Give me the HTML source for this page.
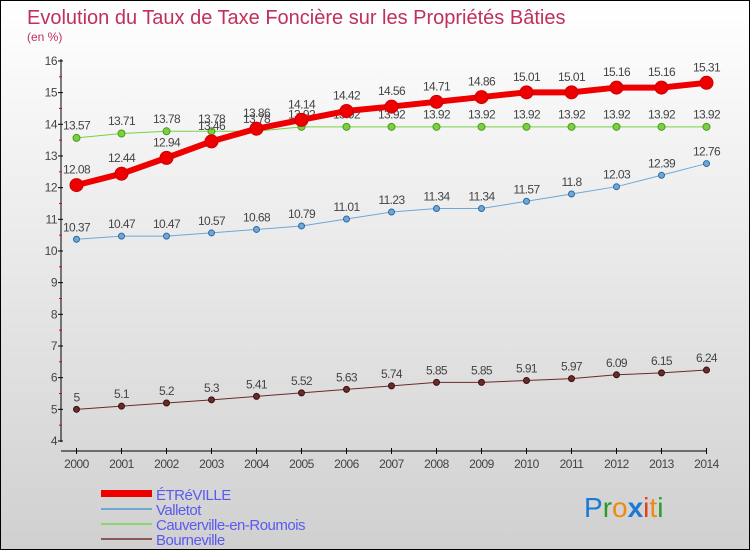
<!DOCTYPE html>
<html><head><meta charset="utf-8"><style>
body{margin:0}
#c{width:748px;height:548px;border:1px solid #000;background:linear-gradient(#ffffff,#d0d0d0);position:relative;overflow:hidden;font-family:"Liberation Sans",sans-serif}
</style></head><body>
<div id="c">
<svg id="s" width="748" height="548" xmlns="http://www.w3.org/2000/svg" style="position:absolute;left:0;top:0">
<text x="26" y="23" font-size="20" fill="#c0305a">Evolution du Taux de Taxe Foncière sur les Propriétés Bâties</text>
<text x="26" y="40" font-size="12" fill="#c0305a">(en %)</text>
<g id="axes"></g><g id="series"></g>
<g font-size="15" fill="#5a5aee" letter-spacing="-0.5">
<rect x="100" y="489" width="51" height="7" fill="#e00"/>
<text x="155" y="499">ÉTRéVILLE</text>
<rect x="100" y="507" width="51" height="2" fill="#6fa6d4"/>
<text x="155" y="514">Valletot</text>
<rect x="100" y="522" width="51" height="2" fill="#8cd470"/>
<text x="155" y="529">Cauverville-en-Roumois</text>
<rect x="100" y="537" width="51" height="2" fill="#8a5a5a"/>
<text x="155" y="544">Bourneville</text>
</g>
<g font-size="28" font-family="Liberation Sans,sans-serif">
<text x="583" y="516"><tspan fill="#1a7ad4">P</tspan><tspan fill="#2a9a2a">r</tspan><tspan fill="#ee8a10">o</tspan><tspan fill="#1a7ad4" font-weight="bold">x</tspan><tspan fill="#e04020">i</tspan><tspan fill="#ee8a10">t</tspan><tspan fill="#2a9a2a">i</tspan></text>
</g>
</svg>
</div>
<script>
const years=[2000,2001,2002,2003,2004,2005,2006,2007,2008,2009,2010,2011,2012,2013,2014];
const etreville=[12.08,12.44,12.94,13.46,13.86,14.14,14.42,14.56,14.71,14.86,15.01,15.01,15.16,15.16,15.31];
const valletot=[10.37,10.47,10.47,10.57,10.68,10.79,11.01,11.23,11.34,11.34,11.57,11.8,12.03,12.39,12.76];
const cauverville=[13.57,13.71,13.78,13.78,13.78,13.92,13.92,13.92,13.92,13.92,13.92,13.92,13.92,13.92,13.92];
const bourneville=[5,5.1,5.2,5.3,5.41,5.52,5.63,5.74,5.85,5.85,5.91,5.97,6.09,6.15,6.24];
const yTicks=[4,5,6,7,8,9,10,11,12,13,14,15,16];
const NS='http://www.w3.org/2000/svg';
const X=i=>75.5+45*i, Y=v=>440-(v-4)*31.67;
function mk(t,a,p){const e=document.createElementNS(NS,t);for(const k in a)e.setAttribute(k,a[k]);p.appendChild(e);return e;}
const ax=document.getElementById('axes');
let l=mk('line',{x1:60,y1:58,x2:60,y2:441,stroke:'#000'},ax);


l=mk('line',{x1:60,y1:450,x2:706,y2:450,stroke:'#000'},ax);


yTicks.forEach(v=>{
 mk('line',{x1:57,y1:Y(v),x2:62,y2:Y(v),stroke:'#000'},ax);
 if(v<16)mk('line',{x1:58,y1:Y(v+0.5),x2:61,y2:Y(v+0.5),stroke:'#e00'},ax);
 const t=mk('text',{x:56,y:Y(v)+4,'text-anchor':'end','font-size':12,fill:'#444','letter-spacing':'-0.5'},ax);t.textContent=v;
 
 
});
years.forEach((y,i)=>{
 mk('line',{x1:X(i),y1:447,x2:X(i),y2:453,stroke:'#000'},ax);
 const t=mk('text',{x:X(i),y:467,'text-anchor':'middle','font-size':12,fill:'#444','letter-spacing':'-0.5'},ax);t.textContent=y;
 
 
});
const sg=document.getElementById('series');
function series(name,vals,color,w,r,stroke){
 const g=mk('g',{},sg);
 
 
 const p=mk('polyline',{points:vals.map((v,i)=>X(i)+','+Y(v)).join(' '),fill:'none',stroke:color,'stroke-width':w},g);
 
 
 vals.forEach((v,i)=>{
  const c=mk('circle',{cx:X(i),cy:Y(v),r:r,fill:color,stroke:stroke,'stroke-width':1},g);
  
  
  const t=mk('text',{x:X(i),y:Y(v)-r-5,'text-anchor':'middle','font-size':12,fill:'#444','letter-spacing':'-0.6'},g);t.textContent=v;
  
  
 });
}
series('bourneville',bourneville,'#6a2a2a',1,3,'#3a1010');
series('valletot',valletot,'#6fa6d4',1,3,'#2a6aa4');
series('cauverville',cauverville,'#7ad040',1,3.5,'#4a9a20');
series('etreville',etreville,'#ee0000',6,6.5,'#c00');
</script>
</body></html>
